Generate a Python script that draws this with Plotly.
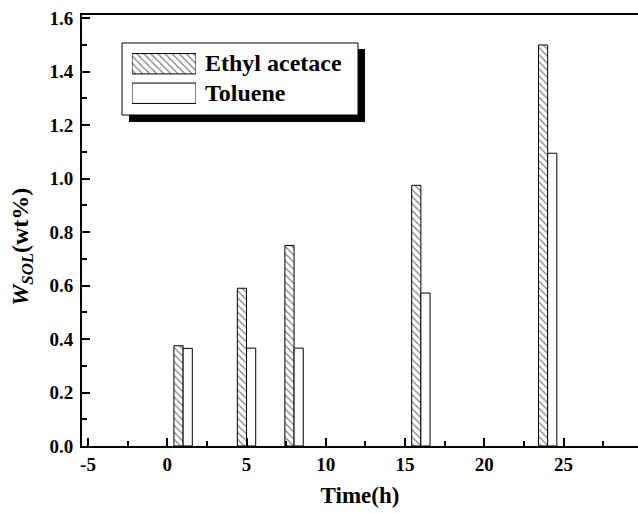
import plotly.graph_objects as go

# Data
time_h = [1, 5, 8, 16, 24]
ethyl_acetate = [0.375, 0.59, 0.75, 0.975, 1.50]
toluene = [0.365, 0.366, 0.366, 0.572, 1.095]
series_names = ["Ethyl acetace", "Toluene"]
x_ticks = [-5, 0, 5, 10, 15, 20, 25]
y_ticks = [0.0, 0.2, 0.4, 0.6, 0.8, 1.0, 1.2, 1.4, 1.6]

W, H = 638, 513
L, R, T, B = 82, 0, 15, 67
PW, PH = W - L - R, H - T - B


def px(x):
    return (x - L) / PW


def py(y):
    return (H - B - y) / PH


FONT = "Liberation Serif"
bw = 0.58

fig = go.Figure()
fig.add_trace(go.Bar(
    x=time_h, y=ethyl_acetate, name=series_names[0], width=bw, offset=-bw,
    marker=dict(color="white", line=dict(color="black", width=1),
                pattern=dict(shape="\\", size=5, solidity=0.25, fgcolor="black", bgcolor="white")),
    showlegend=False))
fig.add_trace(go.Bar(
    x=time_h, y=toluene, name=series_names[1], width=bw, offset=0,
    marker=dict(color="white", line=dict(color="black", width=1)),
    showlegend=False))

# Custom legend swatches on helper axes
fig.add_trace(go.Bar(
    x=[1], y=[1], orientation="h", width=0.69, xaxis="x2", yaxis="y2",
    marker=dict(color="white", line=dict(color="black", width=1),
                pattern=dict(shape="\\", size=5, solidity=0.25, fgcolor="black", bgcolor="white")),
    showlegend=False, hoverinfo="skip"))
fig.add_trace(go.Bar(
    x=[1], y=[0], orientation="h", width=0.69, xaxis="x2", yaxis="y2",
    marker=dict(color="white", line=dict(color="black", width=1)),
    showlegend=False, hoverinfo="skip"))

fig.update_layout(
    width=W, height=H,
    margin=dict(l=L, r=R, t=T, b=B, pad=0),
    paper_bgcolor="white", plot_bgcolor="white",
    barmode="overlay",
    font=dict(family=FONT, color="black", size=19),
    xaxis=dict(
        range=[-5.38, 29.7], tickvals=x_ticks, ticktext=[str(v) for v in x_ticks],
        ticks="inside", ticklen=8, tickwidth=2, tickcolor="black",
        minor=dict(dtick=2.5, tick0=0, ticks="inside", ticklen=5, tickwidth=1.5, tickcolor="black"),
        showline=True, linewidth=2, linecolor="black", mirror=True,
        showgrid=False, zeroline=False,
        tickfont=dict(family=FONT, size=19, color="black", weight="bold"),
        title=dict(text="<b>Time(h)</b>", font=dict(family=FONT, size=23), standoff=13),
    ),
    yaxis=dict(
        range=[0, 1.612], tickvals=y_ticks, ticktext=[f"{v:.1f}" for v in y_ticks],
        ticks="inside", ticklen=8, tickwidth=2, tickcolor="black",
        minor=dict(dtick=0.1, tick0=0, ticks="inside", ticklen=5, tickwidth=1.5, tickcolor="black"),
        showline=True, linewidth=2, linecolor="black", mirror=False,
        showgrid=False, zeroline=False, ticklabelstandoff=3,
        tickfont=dict(family=FONT, size=19, color="black", weight="bold"),
    ),
    xaxis2=dict(domain=[px(132), px(196)], range=[0, 1], anchor="y2",
                visible=False, fixedrange=True),
    yaxis2=dict(domain=[py(108), py(49)], range=[-0.5, 1.5], anchor="x2",
                visible=False, fixedrange=True),
    shapes=[
        dict(type="rect", xref="paper", yref="paper",
             x0=px(129), x1=px(365), y0=py(122), y1=py(49),
             fillcolor="black", line=dict(width=0), layer="below"),
        dict(type="rect", xref="paper", yref="paper",
             x0=px(122), x1=px(358), y0=py(115), y1=py(43),
             fillcolor="white", line=dict(color="black", width=1), layer="below"),
    ],
    annotations=[
        dict(text=f"<b>{series_names[0]}</b>", xref="paper", yref="paper",
             x=px(203), y=py(63.5), xanchor="left", yanchor="middle", showarrow=False,
             font=dict(family=FONT, size=24, color="black")),
        dict(text=f"<b>{series_names[1]}</b>", xref="paper", yref="paper",
             x=px(203), y=py(93), xanchor="left", yanchor="middle", showarrow=False,
             font=dict(family=FONT, size=24, color="black")),
        dict(text="<b><i>W</i><sub><i>SOL</i></sub>(wt%)</b>", xref="paper", yref="paper",
             x=px(22), y=py(247), xanchor="center", yanchor="middle", textangle=-90,
             showarrow=False, font=dict(family=FONT, size=24, color="black")),
    ],
)

fig.write_html("out.html")
